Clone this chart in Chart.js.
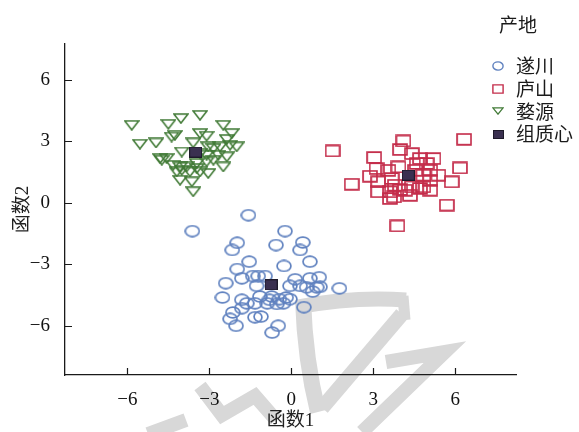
<!DOCTYPE html>
<html>
<head>
<meta charset="utf-8">
<script src="https://cdn.jsdelivr.net/npm/chart.js@4.4.1/dist/chart.umd.min.js"></script>
<style>
  html, body { margin: 0; padding: 0; background: #ffffff; }
  #wrap { width: 579px; height: 432px; }
</style>
</head>
<body>
<div id="wrap"><canvas id="c" width="579" height="432"></canvas></div>
<script>
// Discriminant scores (函数1, 函数2) by origin
const tickValues = [-6, -3, 0, 3, 6];
const groupNames = ['遂川', '庐山', '婺源'];
const centroidName = '组质心';
const legendTitle = '产地';
const xTitle = '函数1';
const yTitle = '函数2';

const suichuan = [
  [-1.57, -0.60], [-3.62, -1.38], [-0.23, -1.38], [-1.98, -1.95], [-2.16, -2.30],
  [-0.56, -2.06], [0.42, -1.93], [0.32, -2.30], [-1.54, -2.87], [0.68, -2.87],
  [-0.27, -3.08], [-1.98, -3.23], [-2.40, -3.92], [-1.81, -3.68], [-1.41, -3.57],
  [-1.21, -3.57], [-0.96, -3.57], [-1.27, -4.05], [0.14, -3.73], [-0.05, -4.05],
  [0.32, -4.05], [0.68, -3.68], [1.02, -3.63], [0.56, -4.12], [0.93, -4.12],
  [1.05, -4.10], [0.78, -4.33], [1.76, -4.17], [-2.52, -4.62], [-1.81, -4.73],
  [-1.15, -4.57], [-0.80, -4.73], [-0.44, -4.70], [-0.19, -4.62], [-0.05, -4.70],
  [-1.33, -4.90], [-0.88, -4.90], [-0.53, -4.93], [0.46, -5.09], [-1.81, -5.14],
  [-2.14, -5.35], [-2.24, -5.66], [-1.33, -5.58], [-1.11, -5.55], [-2.02, -6.00],
  [-0.48, -6.00], [-0.70, -6.33], [-0.72, -4.57], [-1.63, -4.90], [-0.29, -4.90]
];

const lushan = [
  [1.51, 2.53], [4.10, 3.02], [6.32, 3.10], [3.98, 2.60], [3.03, 2.21],
  [4.41, 2.40], [4.71, 2.16], [5.20, 2.16], [6.17, 1.70], [2.21, 0.91],
  [2.88, 1.30], [3.12, 1.67], [3.55, 1.59], [3.92, 1.75], [4.59, 1.92],
  [4.95, 1.92], [5.08, 1.59], [4.83, 1.35], [5.38, 1.35], [5.87, 1.02],
  [3.18, 1.02], [3.67, 1.19], [3.79, 0.86], [3.98, 0.65], [3.18, 0.54],
  [3.61, 0.54], [4.16, 0.62], [4.41, 0.78], [4.71, 0.70], [4.83, 0.78],
  [5.08, 0.62], [3.61, 0.21], [3.76, 0.29], [5.69, -0.11], [3.88, -1.13],
  [5.08, 1.10], [4.53, 1.59], [4.34, 0.37]
];

const wuyuan = [
  [-5.84, 3.78], [-4.50, 3.83], [-4.04, 4.11], [-3.34, 4.27], [-2.49, 3.78],
  [-2.18, 3.38], [-5.54, 2.86], [-4.95, 2.92], [-4.38, 3.21], [-4.26, 3.29],
  [-3.34, 3.38], [-3.10, 3.25], [-2.36, 3.09], [-2.00, 2.73], [-3.59, 2.92],
  [-4.01, 2.48], [-3.04, 2.73], [-2.85, 2.65], [-2.61, 2.73], [-2.24, 2.81],
  [-3.34, 2.40], [-3.10, 2.32], [-2.67, 2.32], [-2.36, 2.24], [-4.80, 2.16],
  [-4.56, 2.16], [-4.32, 1.83], [-4.07, 1.75], [-3.83, 1.75], [-3.46, 1.92],
  [-3.10, 2.00], [-2.85, 2.08], [-2.49, 1.75], [-4.01, 1.59], [-3.46, 1.67],
  [-3.04, 1.43], [-4.07, 1.10], [-3.64, 1.02], [-3.59, 0.54], [-4.19, 1.51],
  [-3.34, 1.51], [-3.71, 1.51], [-4.74, 2.08]
];

// Group centroids: 遂川, 庐山, 婺源
const centroids = [[-0.74, -4.00], [4.28, 1.35], [-3.50, 2.48]];

const toXY = arr => arr.map(([x, y]) => ({ x, y }));

// Marker images (slightly wide ellipse / rectangle / inverted triangle)
function makeMarker(kind, w, h, color, lw) {
  const cv = document.createElement('canvas');
  cv.width = w; cv.height = h;
  const g = cv.getContext('2d');
  g.lineWidth = lw;
  g.strokeStyle = color;
  g.fillStyle = color;
  const p = lw / 2 + 0.2;
  g.beginPath();
  if (kind === 'ellipse') {
    g.ellipse(w / 2, h / 2, w / 2 - p, h / 2 - p, 0, 0, Math.PI * 2);
    g.stroke();
  } else if (kind === 'rect') {
    g.rect(p, p, w - 2 * p, h - 2 * p);
    g.stroke();
  } else if (kind === 'tri') {
    g.moveTo(p, p);
    g.lineTo(w - p, p);
    g.lineTo(w / 2, h - p);
    g.closePath();
    g.stroke();
  } else if (kind === 'solid') {
    g.rect(0, 0, w, h);
    g.fill();
    g.strokeStyle = '#1e1a2a';
    g.lineWidth = 1;
    g.strokeRect(0.5, 0.5, w - 1, h - 1);
  }
  return cv;
}

const blue = '#5f81bf';
const red = '#c42c4a';
const green = '#427b37';
const dark = '#3a3050';

const mk = {
  circle: makeMarker('ellipse', 16, 13, blue, 1.7),
  square: makeMarker('rect', 16, 13, red, 1.7),
  tri: makeMarker('tri', 16, 11, green, 1.6),
  cent: makeMarker('solid', 13, 11, dark, 1)
};
const lg = {
  circle: makeMarker('ellipse', 12, 10, blue, 1.4),
  square: makeMarker('rect', 12, 10, red, 1.4),
  tri: makeMarker('tri', 12, 8, green, 1.3),
  cent: makeMarker('solid', 11, 9, dark, 1)
};

const fmt = v => (v < 0 ? '\u2212' + Math.abs(v) : String(v));
const serif = '"Liberation Serif", "Noto Sans CJK SC", serif';

// Faint grey stamp behind the plot
const stamp = {
  id: 'stamp',
  beforeDraw(chart) {
    const ctx = chart.ctx;
    ctx.save();
    ctx.strokeStyle = '#d8d8d8';
    ctx.lineCap = 'butt';
    ctx.lineJoin = 'miter';
    ctx.lineWidth = 15;
    ctx.beginPath();
    ctx.moveTo(297, 307); ctx.quadraticCurveTo(355, 296, 406, 300);
    ctx.stroke();
    ctx.lineWidth = 11;
    ctx.beginPath(); ctx.moveTo(403, 296); ctx.lineTo(405, 320); ctx.stroke();
    ctx.lineWidth = 16;
    ctx.beginPath(); ctx.moveTo(303, 300); ctx.quadraticCurveTo(305, 360, 318, 412); ctx.stroke();
    ctx.lineWidth = 15;
    ctx.beginPath(); ctx.moveTo(402, 314); ctx.lineTo(322, 408); ctx.stroke();
    ctx.lineWidth = 14;
    ctx.beginPath(); ctx.moveTo(386, 362); ctx.lineTo(445, 352); ctx.lineTo(362, 432); ctx.stroke();
    ctx.beginPath(); ctx.moveTo(200, 386); ctx.lineTo(222, 415); ctx.lineTo(255, 396); ctx.lineTo(276, 420); ctx.stroke();
    ctx.beginPath(); ctx.moveTo(148, 434); ctx.lineTo(186, 420); ctx.stroke();
    ctx.restore();
  }
};

// Tick marks pointing into the plot
const innerTicks = {
  id: 'innerTicks',
  afterDraw(chart) {
    const { ctx, chartArea: a, scales: { x, y } } = chart;
    ctx.save();
    ctx.strokeStyle = '#1a1a1a';
    ctx.lineWidth = 1.2;
    ctx.beginPath();
    tickValues.forEach(v => {
      const px = Math.round(x.getPixelForValue(v)) + 0.5;
      ctx.moveTo(px, a.bottom); ctx.lineTo(px, a.bottom - 7);
      const py = Math.round(y.getPixelForValue(v)) + 0.5;
      ctx.moveTo(a.left, py); ctx.lineTo(a.left + 7, py);
    });
    ctx.stroke();
    ctx.restore();
  }
};

// Legend block at the upper right
const sideLegend = {
  id: 'sideLegend',
  afterDraw(chart) {
    const ctx = chart.ctx;
    ctx.save();
    ctx.fillStyle = '#1a1a1a';
    ctx.textBaseline = 'middle';
    ctx.font = '19px "Noto Sans CJK SC"';
    ctx.textAlign = 'left';
    ctx.fillText(legendTitle, 499, 25);
    const rows = [
      [lg.circle, groupNames[0]],
      [lg.square, groupNames[1]],
      [lg.tri, groupNames[2]],
      [lg.cent, centroidName]
    ];
    rows.forEach(([img, label], i) => {
      const cy = 66 + i * 22.7;
      ctx.drawImage(img, Math.round(498 - img.width / 2), Math.round(cy - img.height / 2));
      ctx.fillText(label, 516, cy);
    });
    ctx.restore();
  }
};

new Chart(document.getElementById('c'), {
  type: 'scatter',
  data: {
    datasets: [
      { label: centroidName, data: toXY(centroids), pointStyle: mk.cent, pointRadius: 6, order: 0 },
      { label: groupNames[0], data: toXY(suichuan), pointStyle: mk.circle, pointRadius: 7, order: 1 },
      { label: groupNames[1], data: toXY(lushan), pointStyle: mk.square, pointRadius: 7, order: 2 },
      { label: groupNames[2], data: toXY(wuyuan), pointStyle: mk.tri, pointRadius: 7, order: 3 }
    ]
  },
  options: {
    responsive: false,
    animation: false,
    devicePixelRatio: 1,
    layout: { padding: { top: 44, right: 63, bottom: 0, left: 0 } },
    plugins: { legend: { display: false }, tooltip: { enabled: false } },
    scales: {
      x: {
        type: 'linear', min: -8.28, max: 8.22,
        afterBuildTicks: s => { s.ticks = tickValues.map(v => ({ value: v })); },
        afterFit: s => { s.height = 57; },
        grid: { display: false },
        border: { display: true, color: '#1a1a1a', width: 1.3 },
        ticks: { font: { family: serif, size: 19 }, color: '#111', padding: 6, maxRotation: 0, callback: v => fmt(v) },
        title: { display: true, text: xTitle, font: { family: serif, size: 19 }, color: '#222', padding: { top: 0, bottom: 0 } }
      },
      y: {
        type: 'linear', min: -8.4, max: 7.75,
        afterBuildTicks: s => { s.ticks = tickValues.map(v => ({ value: v })); },
        afterFit: s => { s.width = 65; },
        grid: { display: false },
        border: { display: true, color: '#1a1a1a', width: 1.3 },
        ticks: { font: { family: serif, size: 19 }, color: '#111', padding: 7, callback: v => fmt(v) },
        title: { display: true, text: yTitle, font: { family: serif, size: 19 }, color: '#222', padding: { top: 12, bottom: 0 } }
      }
    }
  },
  plugins: [stamp, innerTicks, sideLegend]
});
</script>
</body>
</html>
